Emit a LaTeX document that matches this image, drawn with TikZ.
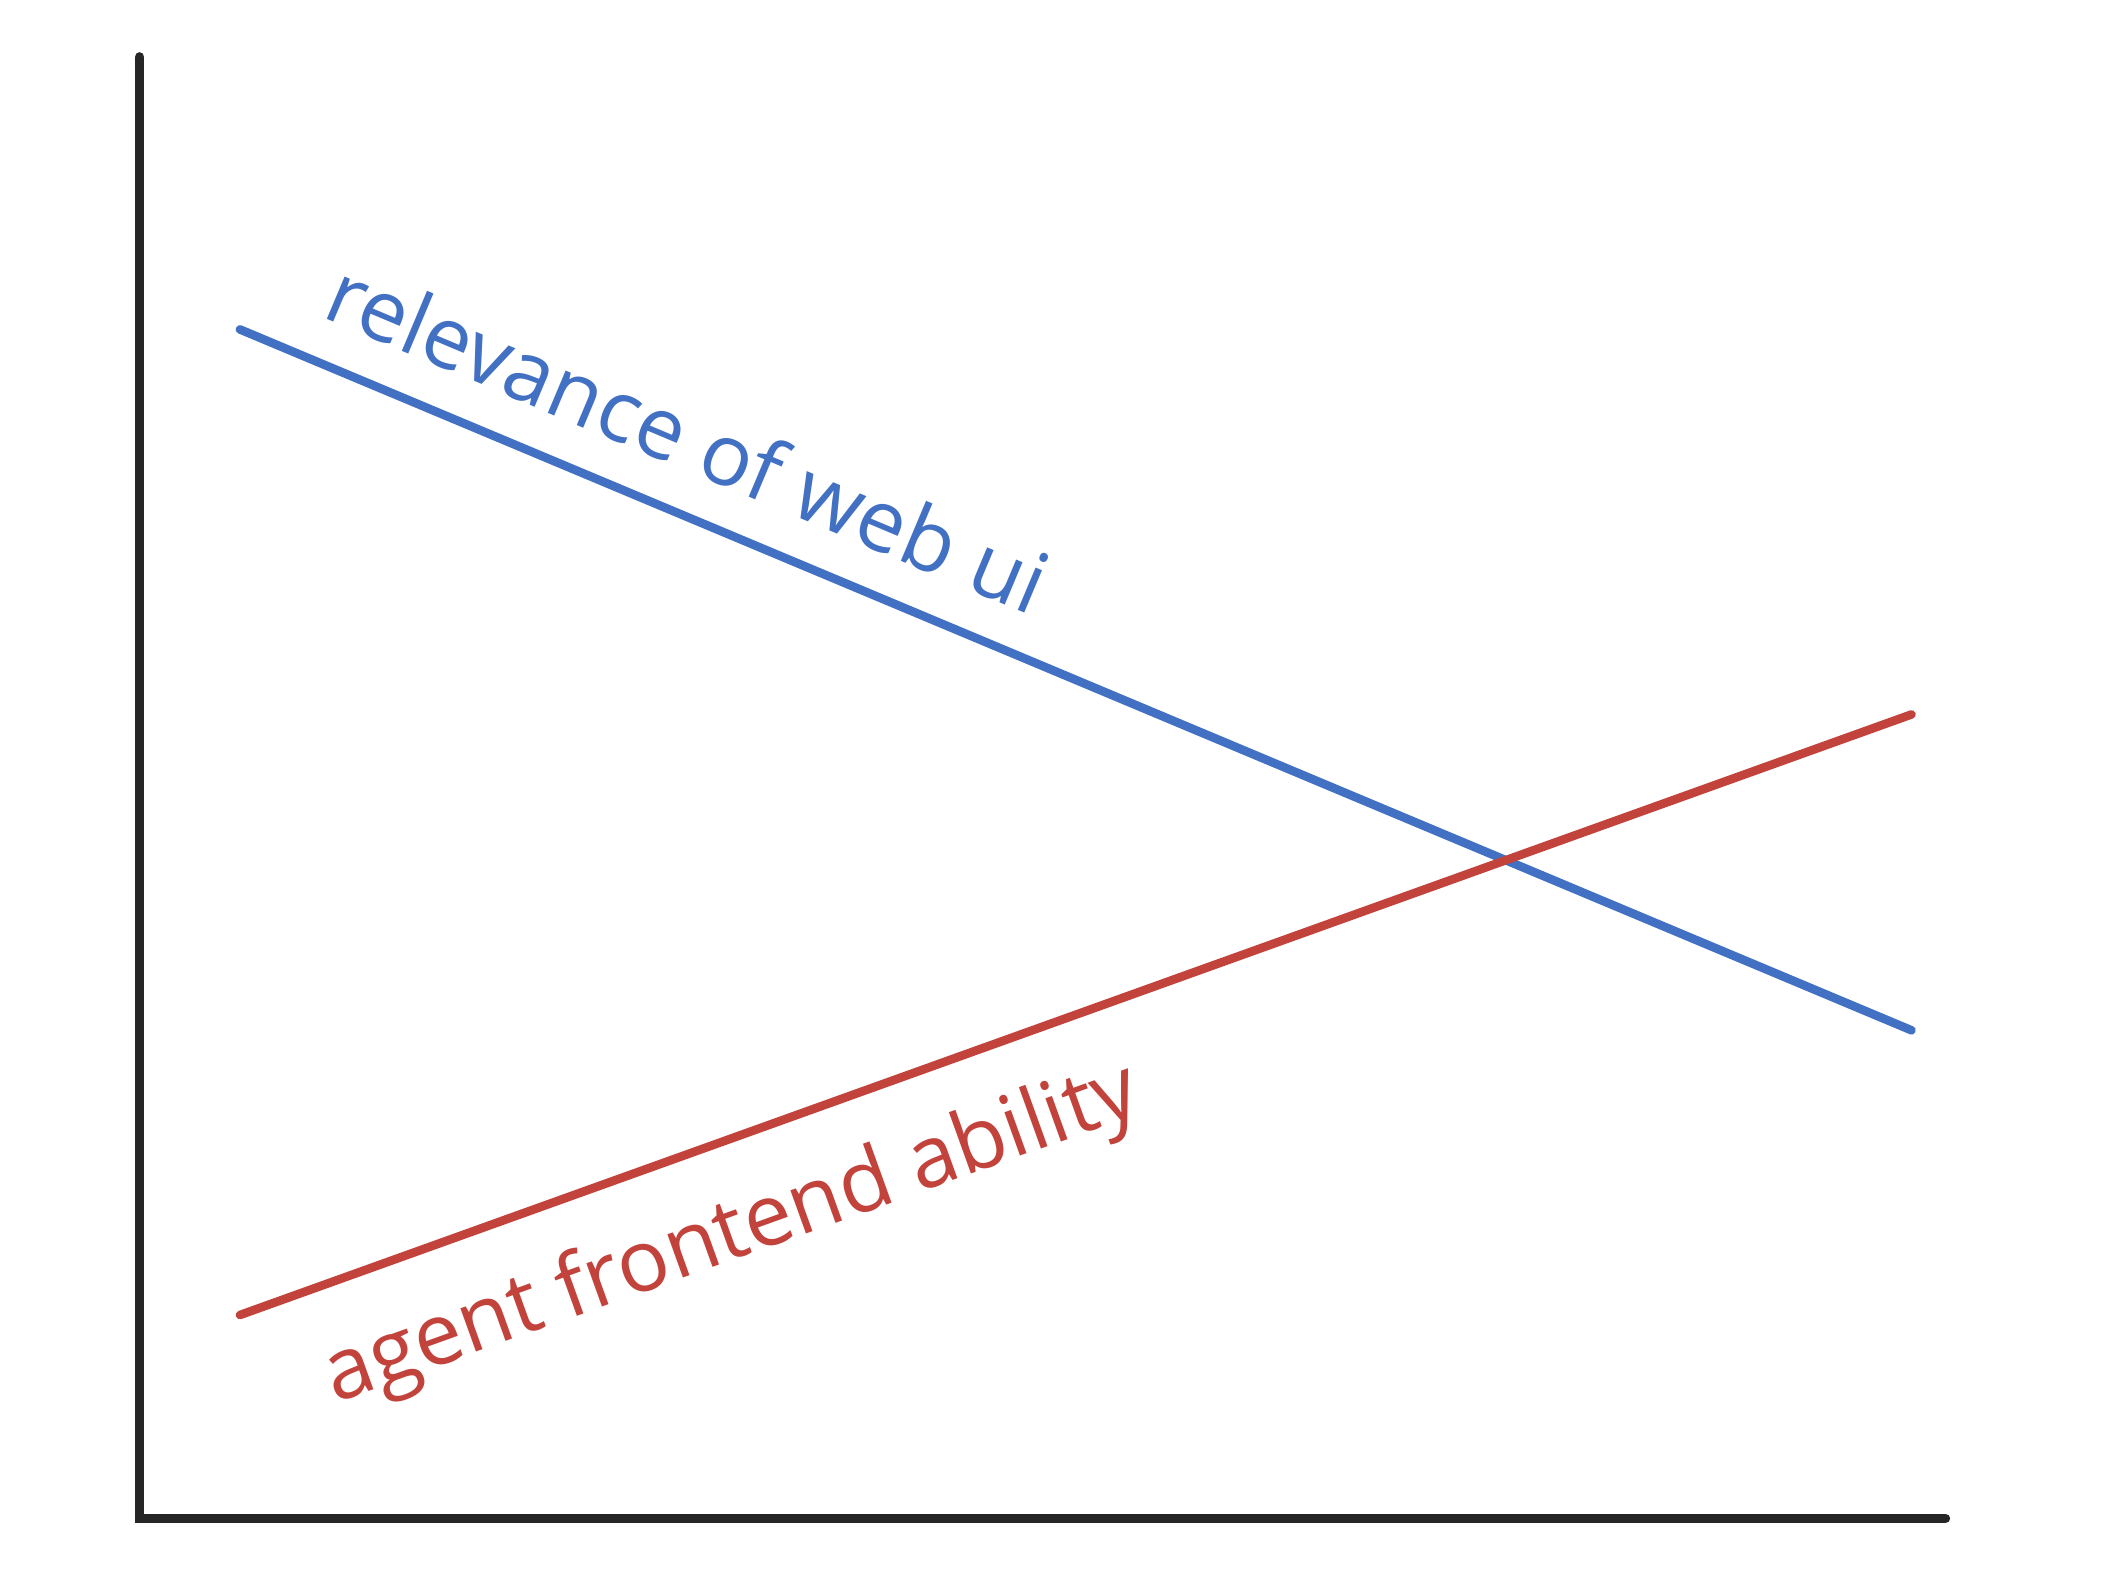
\documentclass[tikz,border=0pt]{standalone}
\usepackage{fontspec}
\setmainfont{Open Sans}
\definecolor{lblue}{HTML}{4270C2}
\definecolor{lred}{HTML}{C2433B}
\begin{document}
\begin{tikzpicture}[x=0.01cm,y=0.01cm,
  axis/.style={line width=2pt,black!85,line cap=round},
  curve/.style={line width=1.8pt,line cap=round},
  lbl/.style={font=\fontsize{18}{22}\selectfont}]
\useasboundingbox[fill=white] (0,0) rectangle (1552,-1164);
\coordinate (o) at (103,-1120);
\coordinate (yt) at (103,-42);
\coordinate (xr) at (1435,-1120);
\draw[axis] (yt) -- (o) -- (xr);
\coordinate (b1) at (177,-243);
\coordinate (b2) at (1410,-760);
\coordinate (r1) at (177,-970);
\coordinate (r2) at (1410,-527);
\draw[curve,lblue] (b1) -- (b2);
\draw[curve,lred] (r1) -- (r2);
\node[lbl,text=lblue,rotate=-22.8] (bl) at (508,-322) {relevance of web ui};
\node[lbl,text=lred,rotate=19.8] (rl) at (540,-912) {agent frontend ability};
\end{tikzpicture}
\end{document}
